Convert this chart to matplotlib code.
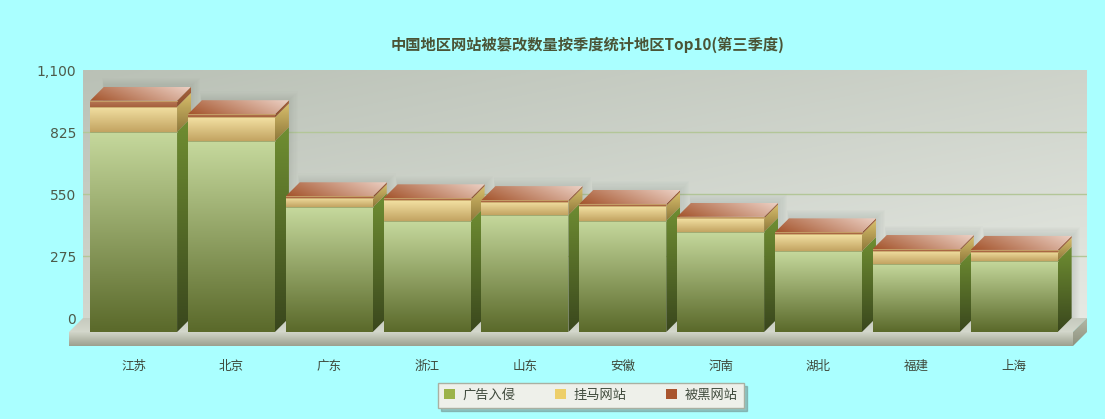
import numpy as np
import matplotlib
matplotlib.use('Agg')
import matplotlib.pyplot as plt
from matplotlib.patches import Polygon, Patch
from matplotlib.colors import to_rgb

plt.rcParams['font.family'] = ['Noto Sans CJK SC', 'DejaVu Sans']

# data
title = '中国地区网站被篡改数量按季度统计地区Top10(第三季度)'
regions = ['江苏', '北京', '广东', '浙江', '山东', '安徽', '河南', '湖北', '福建', '上海']
series_names = ['广告入侵', '挂马网站', '被黑网站']
ad_intrusion = [888, 847, 553, 492, 519, 494, 445, 359, 302, 316]
trojan_sites = [111, 105, 40, 93, 59, 66, 59, 75, 59, 40]
hacked_sites = [27, 14, 9, 8, 7, 8, 7, 8, 7, 8]
y_ticks = [0, 275, 550, 825, 1100]
y_max = 1100

# colours: (front top, front bottom, side top, side bottom)
seg_colors = [
    ('#c5d89c', '#5b6a2b', '#6f8e32', '#3a471d'),
    ('#f3e1a3', '#c3a462', '#d8bf6c', '#8f783a'),
    ('#b97a58', '#a6613e', '#a8643e', '#8a4e2e'),
]
legend_colors = ['#9bb34a', '#edcf6a', '#a9552f']

W, H = 1105, 419
fig = plt.figure(figsize=(W / 100, H / 100), dpi=100, facecolor='#aaffff')
ax = fig.add_axes([83 / W, 101 / H, 1004 / W, 248 / H])
ux = 97.84                   # pixels per category
xlo = -0.66
xhi = xlo + 1004 / ux
ax.set_xlim(xlo, xhi)
ax.set_ylim(0, y_max)
ax.patch.set_visible(False)
for s in ax.spines.values():
    s.set_visible(False)

uy = 248 / y_max             # pixels per value unit
DX, DY = 14 / ux, 14 / uy    # 3d depth
SLAB = 14 / uy
bw = 87 / ux


def shade(verts, c0, c1, wx=0.0, wy=1.0, z=2):
    """fill polygon with a linear gradient, c0 at the top / right end"""
    poly = Polygon(verts, closed=True, transform=ax.transData)
    xs = [v[0] for v in verts]
    ys = [v[1] for v in verts]
    n = 48
    gx, gy = np.meshgrid(np.linspace(0, 1, n), np.linspace(0, 1, n))
    t = wx * gx + wy * gy
    t = t - t.min()
    t = t / t.max()
    a, b = np.array(to_rgb(c1)), np.array(to_rgb(c0))
    img = a * (1 - t)[..., None] + b * t[..., None]
    im = ax.imshow(img, extent=(min(xs), max(xs), min(ys), max(ys)), origin='lower',
                   aspect='auto', interpolation='bilinear', clip_path=poly, zorder=z)
    im.set_clip_box(fig.bbox)


# back wall
shade([(xlo, 0), (xhi, 0), (xhi, y_max), (xlo, y_max)], '#bac1b6', '#e6e9e3',
      wx=-0.45, wy=0.55, z=0.5)
for v in y_ticks[1:-1]:
    ax.axhline(v, color='#b3c698', lw=1, zorder=0.8)

# floor slab
shade([(xlo, 0), (xhi, 0), (xhi - DX, -DY), (xlo - DX, -DY)], '#c6cabe', '#d4d8cc', z=0.9)
shade([(xlo - DX, -DY), (xhi - DX, -DY), (xhi - DX, -DY - SLAB), (xlo - DX, -DY - SLAB)],
      '#d5d9cd', '#9ca08e', z=0.9)
shade([(xhi - DX, -DY), (xhi, 0), (xhi, -SLAB), (xhi - DX, -DY - SLAB)],
      '#b4b8a6', '#8e927f', z=0.9)

stacks = np.array([ad_intrusion, trojan_sites, hacked_sites], dtype=float)
tops = stacks.cumsum(axis=0)

for i in range(len(regions)):
    z = 2 + i * 0.1
    total = tops[-1, i]
    xl, xr = i - bw / 2 - DX, i + bw / 2 - DX
    # soft shadow on the wall
    for k in range(1, 9):
        ex, ey = k * 1.1 / ux, k * 1.1 / uy
        ax.add_patch(Polygon([(xl + DX - ex * 0.2, 0), (xr + DX + ex, 0),
                              (xr + DX + ex, total + ey), (xl + DX - ex * 0.2, total + ey)],
                             closed=True, facecolor='#66706a', edgecolor='none',
                             alpha=0.02, zorder=1))
    base = 0
    for s in range(3):
        top = tops[s, i]
        f0, f1, s0, s1 = seg_colors[s]
        # front face
        shade([(xl, base - DY), (xr, base - DY), (xr, top - DY), (xl, top - DY)],
              f0, f1, z=z)
        # right side
        shade([(xr, base - DY), (xr + DX, base), (xr + DX, top), (xr, top - DY)],
              s0, s1, z=z)
        ax.plot([xl, xr], [top - DY, top - DY], color='#9aa36a' if s == 0 else '#c7a56a',
                lw=0.6, zorder=z + 0.01, clip_on=False)
        base = top
    # top face
    shade([(xl, total - DY), (xr, total - DY), (xr + DX, total), (xl + DX, total)],
          '#ecd0c4', '#a4542c', wx=0.75, wy=0.25, z=z + 0.02)

# axes text
ax.set_yticks(y_ticks)
ax.set_yticklabels([f'{v:,}' for v in y_ticks], family='DejaVu Sans', fontsize=10,
                   color='#4d5a4a')
ax.set_xticks(np.arange(len(regions)) - DX)
ax.set_xticklabels(regions, fontsize=9, color='#3d4739')
ax.tick_params(axis='y', length=0, pad=5)
ax.tick_params(axis='x', length=0, pad=30)

fig.text(588 / W, 1 - 45 / H, title, ha='center', va='center', fontsize=11,
         fontweight='bold', color='#4a5436')

handles = [Patch(facecolor=c, edgecolor='none') for c in legend_colors]
fig.legend(handles, series_names, loc='center', bbox_to_anchor=(591 / W, 1 - 395.5 / H),
           ncol=3, fancybox=False, facecolor='#eef0ea', edgecolor='#a9b0a2',
           framealpha=1, handlelength=0.8, handleheight=0.8, handletextpad=0.6,
           columnspacing=3.0, fontsize=9.5, borderpad=0.45, labelcolor='#3f4a3c',
           shadow={'color': '#6f8a86', 'alpha': 0.5})

fig.savefig('out.png', dpi=100, facecolor=fig.get_facecolor())
